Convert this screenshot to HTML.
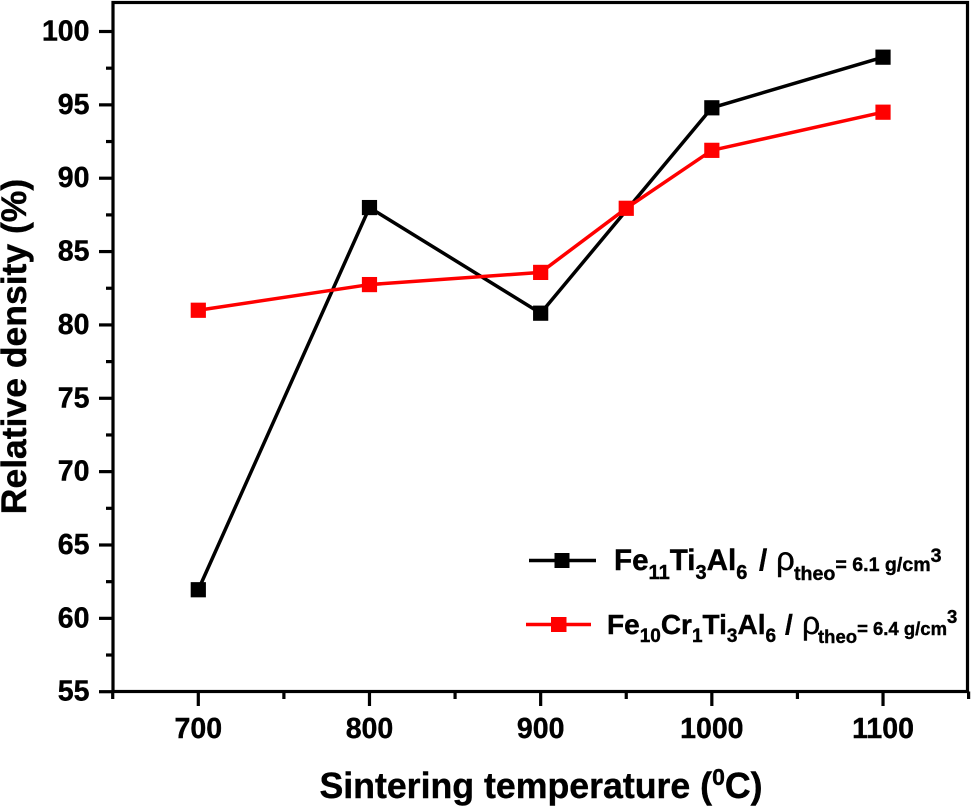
<!DOCTYPE html>
<html>
<head>
<meta charset="utf-8">
<style>
html,body{margin:0;padding:0;background:#fff;}
svg{display:block;}
text{font-family:"Liberation Sans",sans-serif;font-weight:bold;fill:#000;}
.thick{stroke:#000;stroke-width:0.4px;}
</style>
</head>
<body>
<svg id="chart" width="971" height="807" viewBox="0 0 971 807" xmlns="http://www.w3.org/2000/svg">
  <rect x="113" y="2.5" width="854.5" height="689" fill="#fff" stroke="#000" stroke-width="3.2"/>
  <g id="ticks"></g>
  <g id="series"></g>
  <text class="thick" x="541" y="798" text-anchor="middle" font-size="35.7">Sintering temperature (<tspan font-size="23" dy="-13">0</tspan><tspan dy="13">C)</tspan></text>
  <text class="thick" transform="translate(26,346.5) rotate(-90)" text-anchor="middle" font-size="35.5">Relative density (%)</text>
  <g>
    <line x1="529" y1="560.5" x2="596" y2="560.5" stroke="#000" stroke-width="3.5"/>
    <rect x="554.5" y="553" width="15" height="15" fill="#000"/>
    <text class="thick" font-size="29.6"><tspan x="614" y="570">Fe</tspan><tspan font-size="20" y="579">11</tspan><tspan y="570">Ti</tspan><tspan font-size="20" y="579">3</tspan><tspan y="570">Al</tspan><tspan font-size="20" y="579">6</tspan><tspan x="759" y="570">/</tspan><tspan x="776" y="570" font-weight="normal" font-size="33">ρ</tspan><tspan x="794" y="580" font-size="19.6">theo</tspan><tspan y="571" font-size="19.6">= 6.1 g/cm</tspan><tspan y="562" font-size="19.6">3</tspan></text>
    <line x1="526" y1="624.5" x2="591" y2="624.5" stroke="#f00" stroke-width="3.5"/>
    <rect x="551" y="617" width="15.5" height="15" fill="#f00"/>
    <text class="thick" font-size="28"><tspan x="607" y="634">Fe</tspan><tspan font-size="19" y="642">10</tspan><tspan y="634">Cr</tspan><tspan font-size="19" y="642">1</tspan><tspan y="634">Ti</tspan><tspan font-size="19" y="642">3</tspan><tspan y="634">Al</tspan><tspan font-size="19" y="642">6</tspan><tspan x="785" y="634">/</tspan><tspan x="802" y="634" font-weight="normal" font-size="32">ρ</tspan><tspan x="818" y="643" font-size="18.5">theo</tspan><tspan y="635" font-size="18.5">= 6.4 g/cm</tspan><tspan y="623" font-size="18.5">3</tspan></text>
  </g>
</svg>
<script>
const xTickLabels = [700, 800, 900, 1000, 1100];
const xMinorTicks = [650, 750, 850, 950, 1050, 1150];
const yTickLabels = [55, 60, 65, 70, 75, 80, 85, 90, 95, 100];
const yMinorTicks = [57.5, 62.5, 67.5, 72.5, 77.5, 82.5, 87.5, 92.5, 97.5];
const blackTemps = [700, 800, 900, 1000, 1100];
const blackDensity = [61.95, 88.0, 80.8, 94.8, 98.25];
const redTemps = [700, 800, 900, 950, 1000, 1100];
const redDensity = [81.0, 82.75, 83.58, 87.95, 91.9, 94.5];

const NS = 'http://www.w3.org/2000/svg';
function xScale(v) { return 198.3 + (v - 700) * 1.7118; }
function yScale(v) { return 691.7 - (v - 55) * 14.671; }
function make(tag, parent, attrs) {
  const el = document.createElementNS(NS, tag);
  for (const k in attrs) el.setAttribute(k, attrs[k]);
  parent.appendChild(el);
  return el;
}
const ticks = document.getElementById('ticks');
xTickLabels.forEach(function (v) {
  const t = make('line', ticks, {x1: xScale(v), x2: xScale(v), y1: 691.5, y2: 706, stroke: '#000', 'stroke-width': 3.2});
  
  
  const l = make('text', ticks, {x: xScale(v), y: 738, 'text-anchor': 'middle', 'font-size': 28.5, 'class': 'thick'});
  l.textContent = v;
  
  
});
xMinorTicks.forEach(function (v) {
  const t = make('line', ticks, {x1: xScale(v), x2: xScale(v), y1: 691.5, y2: 699, stroke: '#000', 'stroke-width': 3.2});
  
  
});
yTickLabels.forEach(function (v) {
  const t = make('line', ticks, {x1: 99, x2: 113, y1: yScale(v), y2: yScale(v), stroke: '#000', 'stroke-width': 3.2});
  
  
  const l = make('text', ticks, {x: 89.5, y: yScale(v) + 9, 'text-anchor': 'end', 'font-size': 28.5, 'class': 'thick'});
  l.textContent = v;
  
  
});
yMinorTicks.forEach(function (v) {
  const t = make('line', ticks, {x1: 106, x2: 113, y1: yScale(v), y2: yScale(v), stroke: '#000', 'stroke-width': 3.2});
  
  
});
const series = document.getElementById('series');
function drawSeries(temps, vals, color, name) {
  const pts = temps.map(function (t, i) { return xScale(t) + ',' + yScale(vals[i]); }).join(' ');
  const line = make('polyline', series, {points: pts, fill: 'none', stroke: color, 'stroke-width': 3.5, 'stroke-linejoin': 'miter'});
  
  
  temps.forEach(function (t, i) {
    const m = make('rect', series, {x: xScale(t) - 7.6, y: yScale(vals[i]) - 7.6, width: 15.2, height: 15.2, fill: color});
    
    
  });
}
drawSeries(blackTemps, blackDensity, '#000', 'fe11ti3al6');
drawSeries(redTemps, redDensity, '#f00', 'fe10cr1ti3al6');
</script>
</body>
</html>
